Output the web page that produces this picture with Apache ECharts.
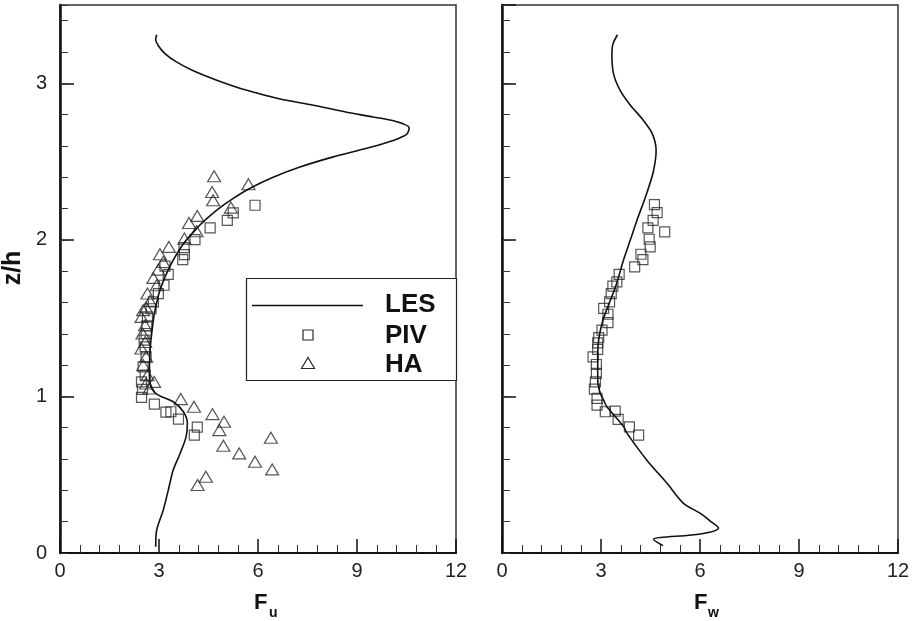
<!DOCTYPE html>
<html><head><meta charset="utf-8">
<script src="https://cdn.jsdelivr.net/npm/echarts@6/dist/echarts.min.js"></script>
<style>html,body{margin:0;padding:0;background:#fff}#c{width:912px;height:621px}</style>
</head><body><div id="c"></div>
<script>
// ---- data ----
const xTickLabels = [0, 3, 6, 9, 12];
const yTickLabels = [0, 1, 2, 3];
const legendNames = ['LES', 'PIV', 'HA'];
const xTitles = [['F', 'u'], ['F', 'w']];
const yTitle = 'z/h';

// left panel: F_u vs z/h
const lesFu = [[2.93,3.31],[2.90,3.28],[2.98,3.24],[3.18,3.19],[3.54,3.135],[4.04,3.08],[4.75,3.02],[5.66,2.955],[6.67,2.90],[7.68,2.86],[8.69,2.815],[9.49,2.785],[10.20,2.755],[10.58,2.715],[10.51,2.675],[10.10,2.635],[9.29,2.585],[8.28,2.53],[7.27,2.465],[6.46,2.40],[5.76,2.33],[5.25,2.265],[4.75,2.19],[4.39,2.125],[4.24,2.095],[3.74,1.975],[3.33,1.83],[3.03,1.68],[2.88,1.55],[2.83,1.49],[2.73,1.30],[2.71,1.125],[2.79,1.047],[2.98,1.008],[3.43,0.966],[3.74,0.902],[3.86,0.828],[3.82,0.742],[3.64,0.636],[3.43,0.53],[3.28,0.40],[3.13,0.275],[2.93,0.147],[2.90,0.04]];
const pivFu = [[5.91,2.221],[5.25,2.172],[5.07,2.125],[4.55,2.076],[4.09,2.002],[3.76,1.951],[3.77,1.906],[3.72,1.874],[3.18,1.832],[3.28,1.780],[3.15,1.710],[2.98,1.657],[2.83,1.604],[2.76,1.56],[2.65,1.508],[2.63,1.45],[2.61,1.402],[2.55,1.36],[2.58,1.317],[2.61,1.253],[2.52,1.189],[2.58,1.136],[2.47,1.093],[2.50,1.045],[2.47,0.994],[2.86,0.951],[3.21,0.900],[3.36,0.902],[3.59,0.855],[4.16,0.804],[4.07,0.753]];
const haFu = [[4.67,2.406],[5.71,2.355],[4.61,2.306],[4.64,2.253],[5.18,2.206],[4.16,2.153],[3.91,2.108],[4.14,2.055],[3.77,2.008],[3.30,1.955],[3.03,1.908],[3.13,1.859],[2.98,1.810],[2.83,1.757],[2.93,1.710],[2.65,1.657],[2.73,1.610],[2.61,1.568],[2.52,1.551],[2.47,1.508],[2.58,1.455],[2.50,1.402],[2.58,1.348],[2.47,1.306],[2.61,1.253],[2.52,1.200],[2.65,1.136],[2.61,1.083],[2.85,1.093],[2.71,1.051],[3.66,0.983],[4.06,0.934],[4.62,0.887],[4.97,0.838],[4.83,0.785],[6.39,0.736],[4.95,0.685],[5.43,0.636],[5.91,0.583],[6.43,0.534],[4.42,0.487],[4.17,0.434]];

// right panel: F_w vs z/h
const lesFw = [[3.50,3.31],[3.36,3.25],[3.33,3.19],[3.38,3.06],[3.58,2.955],[3.89,2.86],[4.24,2.775],[4.55,2.68],[4.67,2.57],[4.59,2.44],[4.39,2.30],[4.09,2.125],[3.89,2.00],[3.68,1.87],[3.44,1.70],[3.03,1.466],[2.90,1.274],[2.90,1.104],[2.98,1.019],[3.08,0.976],[3.18,0.934],[3.69,0.806],[3.79,0.764],[4.39,0.593],[5.00,0.445],[5.50,0.317],[6.01,0.253],[6.31,0.204],[6.56,0.160],[6.01,0.121],[4.59,0.087],[4.88,0.047]];
const pivFw = [[4.62,2.225],[4.70,2.174],[4.58,2.125],[4.93,2.051],[4.42,2.076],[4.46,2.004],[4.49,1.955],[4.21,1.908],[4.27,1.874],[4.02,1.827],[3.55,1.780],[3.48,1.731],[3.36,1.704],[3.31,1.657],[3.26,1.604],[3.08,1.562],[3.21,1.525],[3.21,1.472],[3.03,1.423],[2.93,1.376],[2.90,1.342],[2.90,1.300],[2.76,1.253],[2.86,1.204],[2.86,1.147],[2.83,1.093],[2.80,1.047],[2.88,0.987],[2.88,0.944],[3.13,0.902],[3.43,0.906],[3.52,0.853],[3.86,0.806],[4.14,0.753]];

// ---- chart ----
const FONT = '"Liberation Sans", Arial, sans-serif';
const gridRect = (left) => ({left: left, top: 5, width: 396, height: 548, outerBoundsMode: 'none', containLabel: false});
const X_MIN = xTickLabels[0], X_MAX = xTickLabels[xTickLabels.length - 1], X_INT = xTickLabels[1] - xTickLabels[0];
const Y_MIN = 0, Y_MAX = 3.5;

function mainX(gi) {
  return {
    gridIndex: gi, type: 'value', min: X_MIN, max: X_MAX, interval: X_INT,
    axisLine: {show: true, onZero: false, lineStyle: {color: '#111', width: 2}},
    axisTick: {show: true, inside: true, length: 14, lineStyle: {color: '#111', width: 1.5}},
    minorTick: {show: true, splitNumber: 5, length: 8, lineStyle: {color: '#333', width: 1}},
    splitLine: {show: false},
    axisLabel: {show: true, fontSize: 20, color: '#222', margin: 8, fontFamily: FONT}
  };
}
function mainY(gi, labels) {
  return {
    gridIndex: gi, type: 'value', min: Y_MIN, max: Y_MAX, interval: 1,
    axisLine: {show: true, onZero: false, lineStyle: {color: '#111', width: 2.5}},
    axisTick: {show: true, inside: true, length: 14, lineStyle: {color: '#111', width: 1.5}},
    splitLine: {show: false},
    axisLabel: {show: labels, fontSize: 20, color: '#222', margin: 13, fontFamily: FONT, showMaxLabel: false,
      formatter: v => (yTickLabels.indexOf(v) >= 0 ? String(v) : '')}
  };
}
function minorY(gi) {
  return {
    gridIndex: gi, type: 'value', min: Y_MIN, max: Y_MAX, interval: 0.2,
    axisLine: {show: false},
    axisTick: {show: true, inside: true, length: 8, lineStyle: {color: '#333', width: 1}},
    splitLine: {show: false}, axisLabel: {show: false}
  };
}
function hiddenX(gi) { return {gridIndex: gi, type: 'value', min: X_MIN, max: X_MAX, show: false}; }

const lineStyle = {color: '#111', width: 1.6};
const markerStyle = {color: 'rgba(0,0,0,0)', borderColor: '#2a2a2a', borderWidth: 1.2};
const legendFont = 'bold 26px ' + FONT;

const option = {
  animation: false,
  backgroundColor: '#fff',
  grid: [
    Object.assign(gridRect(60), {show: true, borderColor: '#333', borderWidth: 1.5, backgroundColor: 'transparent'}),
    Object.assign(gridRect(502), {show: true, borderColor: '#333', borderWidth: 1.5, backgroundColor: 'transparent'}),
    gridRect(60), gridRect(502)
  ],
  xAxis: [mainX(0), mainX(1), hiddenX(2), hiddenX(3)],
  yAxis: [mainY(0, true), mainY(1, false), minorY(2), minorY(3)],
  series: [
    {name: legendNames[0], type: 'line', xAxisIndex: 0, yAxisIndex: 0, data: lesFu, showSymbol: false, smooth: 0.3, lineStyle: lineStyle, z: 3},
    {name: legendNames[1], type: 'scatter', xAxisIndex: 0, yAxisIndex: 0, data: pivFu, symbol: 'rect', symbolSize: 10, itemStyle: markerStyle, z: 2},
    {name: legendNames[2], type: 'scatter', xAxisIndex: 0, yAxisIndex: 0, data: haFu, symbol: 'triangle', symbolSize: [13, 11], itemStyle: markerStyle, z: 2},
    {name: legendNames[0], type: 'line', xAxisIndex: 1, yAxisIndex: 1, data: lesFw, showSymbol: false, smooth: 0.3, lineStyle: lineStyle, z: 3},
    {name: legendNames[1], type: 'scatter', xAxisIndex: 1, yAxisIndex: 1, data: pivFw, symbol: 'rect', symbolSize: 10, itemStyle: markerStyle, z: 2}
  ],
  graphic: [
    // legend box
    {type: 'rect', shape: {x: 246.5, y: 278.5, width: 210, height: 102}, style: {fill: '#fff', stroke: '#222', lineWidth: 1.2}, z: 10},
    {type: 'line', shape: {x1: 252, y1: 305.5, x2: 363, y2: 305.5}, style: {stroke: '#111', lineWidth: 1.6}, z: 11},
    {type: 'rect', shape: {x: 303, y: 330, width: 10, height: 10}, style: {fill: 'none', stroke: '#2a2a2a', lineWidth: 1.2}, z: 11},
    {type: 'polygon', shape: {points: [[308, 357.5], [301.5, 368.5], [314.5, 368.5]]}, style: {fill: 'none', stroke: '#2a2a2a', lineWidth: 1.2}, z: 11},
    {type: 'text', x: 385, y: 305, style: {text: legendNames[0], font: legendFont, fill: '#111', textAlign: 'left', textVerticalAlign: 'middle', verticalAlign: 'middle'}, z: 11},
    {type: 'text', x: 385, y: 336, style: {text: legendNames[1], font: legendFont, fill: '#111', textAlign: 'left', textVerticalAlign: 'middle', verticalAlign: 'middle'}, z: 11},
    {type: 'text', x: 385, y: 365, style: {text: legendNames[2], font: legendFont, fill: '#111', textAlign: 'left', textVerticalAlign: 'middle', verticalAlign: 'middle'}, z: 11},
    // axis titles
    {type: 'text', x: 13, y: 268, rotation: Math.PI / 2, style: {text: yTitle, font: 'bold 25px ' + FONT, fill: '#111', textAlign: 'center', textVerticalAlign: 'middle', verticalAlign: 'middle'}},
    {type: 'text', x: 254, y: 603, style: {text: xTitles[0][0], font: 'bold 22px ' + FONT, fill: '#111', textAlign: 'left', textVerticalAlign: 'middle', verticalAlign: 'middle'}},
    {type: 'text', x: 269, y: 613, style: {text: xTitles[0][1], font: 'bold 14px ' + FONT, fill: '#111', textAlign: 'left', textVerticalAlign: 'middle', verticalAlign: 'middle'}},
    {type: 'text', x: 694, y: 603, style: {text: xTitles[1][0], font: 'bold 22px ' + FONT, fill: '#111', textAlign: 'left', textVerticalAlign: 'middle', verticalAlign: 'middle'}},
    {type: 'text', x: 708, y: 613, style: {text: xTitles[1][1], font: 'bold 14px ' + FONT, fill: '#111', textAlign: 'left', textVerticalAlign: 'middle', verticalAlign: 'middle'}}
  ]
};
const chart = echarts.init(document.getElementById('c'), null, {renderer: 'canvas'});
chart.setOption(option);
</script>
</body></html>
